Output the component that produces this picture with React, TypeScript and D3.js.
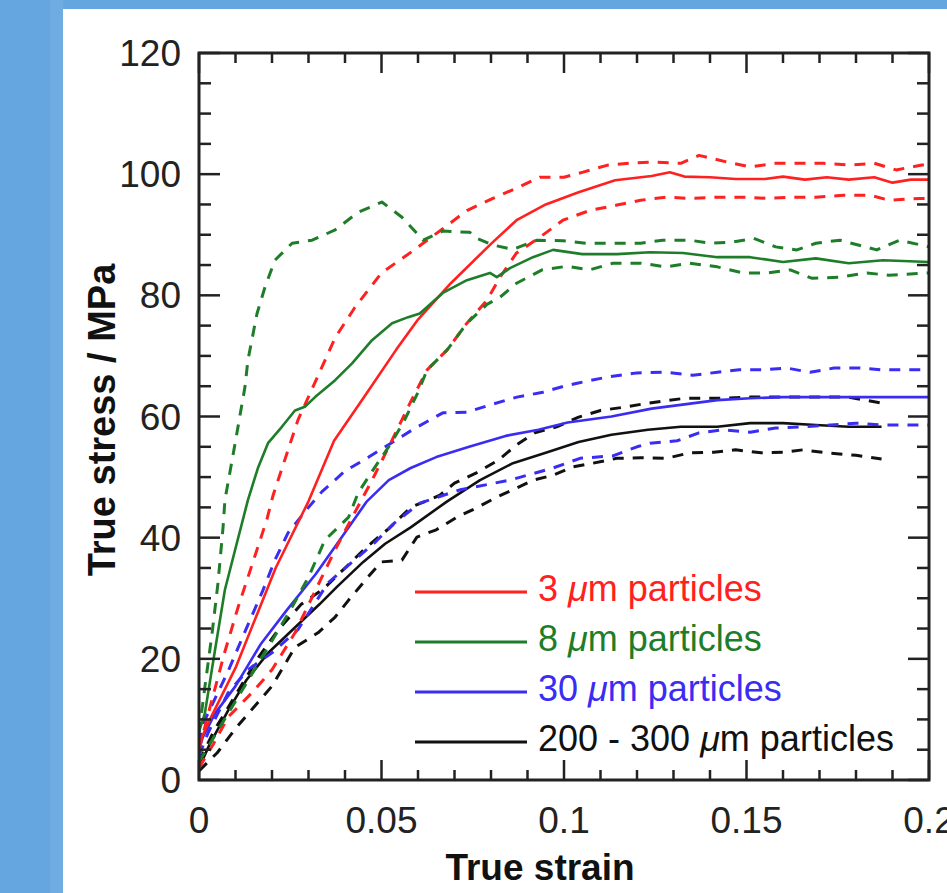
import React from 'react';
import * as d3 from 'd3';

const W = 947;
const H = 893;
const box = { left: 199, top: 53, right: 929, bottom: 780 };

// tick values
const xMajor = [0, 0.05, 0.1, 0.15, 0.2];
const xLabels = ['0', '0.05', '0.1', '0.15', '0.2'];
const yMajor = [0, 20, 40, 60, 80, 100, 120];
const yLabels = ['0', '20', '40', '60', '80', '100', '120'];

// [true strain, true stress / MPa]
const red3Mean = [
  [0, 6], [0.003, 10], [0.01, 18.5], [0.016, 27.5], [0.021, 35], [0.03, 46], [0.037, 56], [0.045, 63],
  [0.054, 71], [0.06, 76], [0.069, 82], [0.08, 88.5], [0.087, 92.4], [0.095, 95], [0.104, 97],
  [0.114, 99], [0.124, 99.7], [0.129, 100.3], [0.133, 99.6], [0.14, 99.5], [0.147, 99.2],
  [0.155, 99.2], [0.16, 99.6], [0.166, 99.1], [0.172, 99.5], [0.178, 99.1], [0.185, 99.5],
  [0.19, 98.6], [0.195, 99.1], [0.2, 99.1],
];
const red3Upper = [
  [0, 5], [0.003, 12], [0.007, 21], [0.0107, 28.5], [0.0186, 43], [0.0203, 47], [0.0271, 59.4],
  [0.0337, 68.2], [0.0373, 73], [0.0427, 78], [0.05, 83.7], [0.0585, 87.3], [0.0668, 91],
  [0.0734, 94], [0.0805, 96], [0.087, 97.7], [0.0934, 99.5], [0.1, 99.5], [0.105, 100.3],
  [0.112, 101.5], [0.118, 101.8], [0.124, 102], [0.132, 101.8], [0.137, 103.1], [0.1447, 102],
  [0.151, 101.2], [0.158, 101.8], [0.165, 101.8], [0.171, 101.8], [0.178, 101.5], [0.185, 101.8],
  [0.191, 100.7], [0.198, 101.5], [0.2, 101.5],
];
const red3Lower = [
  [0, 2], [0.004, 6], [0.008, 10.4], [0.0145, 14.4], [0.02, 18.2], [0.0263, 24.3], [0.031, 30.2],
  [0.0373, 38], [0.042, 43.4], [0.047, 49], [0.052, 55], [0.0578, 62.2], [0.0625, 67.7], [0.068, 71],
  [0.0734, 75.4], [0.0789, 79.2], [0.0825, 83], [0.087, 87], [0.0934, 89.6], [0.0997, 92.4],
  [0.107, 94], [0.1145, 94.9], [0.121, 95.7], [0.128, 96.2], [0.1345, 96], [0.142, 96.2],
  [0.149, 96.2], [0.156, 96], [0.162, 96.2], [0.169, 96.2], [0.1765, 96.5], [0.184, 96.5],
  [0.189, 95.7], [0.1975, 96], [0.2, 96],
];

const green8Mean = [
  [0, 8], [0.0016, 11], [0.0044, 21.5], [0.0071, 31.4], [0.0099, 38], [0.0134, 46.2], [0.0162, 51.6],
  [0.0189, 55.6], [0.0227, 58.3], [0.0263, 61], [0.029, 61.6], [0.0318, 63.2], [0.0373, 66],
  [0.042, 68.8], [0.0474, 72.6], [0.0529, 75.4], [0.0573, 76.4], [0.0605, 77], [0.0668, 80.4],
  [0.0734, 82.5], [0.0797, 83.7], [0.0816, 83], [0.0852, 84.5], [0.0915, 86.3], [0.097, 87.5],
  [0.105, 86.8], [0.1145, 86.8], [0.1236, 87.1], [0.1326, 87], [0.142, 86.3], [0.151, 86.3],
  [0.16, 85.5], [0.169, 86.1], [0.178, 85.3], [0.1874, 85.8], [0.2, 85.5],
];
const green8Upper = [
  [0, 7.8], [0.0016, 15.3], [0.0036, 24.3], [0.0052, 32.5], [0.0066, 41.8], [0.0071, 46.2],
  [0.0099, 55.6], [0.0126, 64.9], [0.0134, 69.3], [0.0159, 77], [0.0181, 81.4], [0.0208, 85.8],
  [0.0255, 88.6], [0.031, 89.1], [0.0373, 90.8], [0.0436, 93.7], [0.0501, 95.4], [0.0556, 92.9],
  [0.0614, 89.1], [0.0668, 90.6], [0.0742, 90.4], [0.0762, 89.4], [0.0805, 88.3], [0.086, 87.6],
  [0.0926, 89.1], [0.0997, 89], [0.106, 88.6], [0.1134, 88.6], [0.121, 88.6], [0.127, 89.1],
  [0.1345, 89.1], [0.14, 88.6], [0.1463, 88.8], [0.152, 89.4], [0.158, 88], [0.1638, 87.5],
  [0.169, 88.6], [0.1756, 89.1], [0.1857, 87.5], [0.192, 89.1], [0.2, 88],
];
const green8Lower = [
  [0, 3], [0.005, 8], [0.01, 13], [0.015, 18], [0.02, 23], [0.025, 28], [0.03, 33.5], [0.0345, 39.6],
  [0.041, 43.4], [0.0436, 47.4], [0.0477, 51.2], [0.0523, 55.3], [0.056, 59], [0.06, 64],
  [0.0625, 67.7], [0.068, 71], [0.0734, 75.4], [0.0789, 78.5], [0.0825, 79.7], [0.087, 82],
  [0.094, 84.2], [0.1008, 84.8], [0.107, 84.2], [0.1134, 85.3], [0.121, 85.3], [0.128, 84.7],
  [0.1345, 85.3], [0.142, 84.7], [0.149, 83.7], [0.1556, 83.7], [0.162, 84.2], [0.168, 82.8],
  [0.1756, 83], [0.183, 83.7], [0.189, 83.3], [0.2, 83.7],
];

const blue30Mean = [
  [0, 5], [0.001, 7], [0.0044, 11], [0.01, 15.5], [0.017, 22.5], [0.024, 28], [0.032, 34],
  [0.039, 40], [0.046, 46], [0.052, 49.5], [0.058, 51.5], [0.065, 53.3], [0.074, 55], [0.084, 56.8],
  [0.093, 57.8], [0.101, 59], [0.113, 60], [0.124, 61.3], [0.133, 62], [0.142, 62.7], [0.151, 63],
  [0.16, 63.2], [0.18, 63.2], [0.2, 63.2],
];
const blue30Upper = [
  [0, 6], [0.0016, 9.9], [0.008, 18], [0.0126, 24.5], [0.0173, 31], [0.0208, 36.3], [0.0244, 40.8],
  [0.03, 45], [0.0337, 47.6], [0.04, 51], [0.0465, 53.3], [0.0526, 55.6], [0.059, 58], [0.0668, 60.6],
  [0.0734, 60.7], [0.0797, 61.9], [0.0871, 63.2], [0.0942, 64], [0.1, 65], [0.1036, 65.5],
  [0.1118, 66.5], [0.12, 67.2], [0.128, 67.3], [0.1353, 66.8], [0.142, 67.3], [0.148, 67.7],
  [0.1545, 67.7], [0.161, 68], [0.1674, 67.3], [0.174, 68], [0.181, 68], [0.1874, 67.7],
  [0.1948, 67.7], [0.2, 67.7],
];
const blue30Lower = [
  [0, 4], [0.0025, 7.8], [0.008, 14.4], [0.0134, 18.2], [0.02, 21], [0.0271, 24.8], [0.0353, 32.5],
  [0.042, 36], [0.048, 39.1], [0.0535, 42.4], [0.0605, 45.7], [0.0715, 47.9], [0.0852, 49.5],
  [0.0899, 50.3], [0.097, 51.5], [0.1044, 53.1], [0.1134, 53.5], [0.12, 55], [0.1236, 55.6],
  [0.131, 56], [0.137, 57.3], [0.1436, 57.8], [0.151, 57.4], [0.158, 58.1], [0.1655, 58.3],
  [0.173, 58.6], [0.18, 58.9], [0.1874, 58.6], [0.1948, 58.6], [0.2, 58.6],
];

const black200Mean = [
  [0, 2], [0.003, 6], [0.008, 11.5], [0.013, 16.5], [0.019, 21], [0.026, 25], [0.033, 29],
  [0.038, 32], [0.045, 36], [0.051, 39], [0.058, 41.7], [0.068, 46], [0.077, 49.5], [0.086, 52.3],
  [0.095, 54], [0.104, 55.8], [0.113, 57], [0.123, 57.8], [0.132, 58.3], [0.142, 58.3],
  [0.151, 58.9], [0.16, 58.9], [0.169, 58.6], [0.178, 58.3], [0.187, 58.3],
];
const black200Upper = [
  [0, 3], [0.004, 8], [0.01, 14], [0.016, 20], [0.022, 25], [0.028, 29], [0.034, 31.5], [0.04, 35],
  [0.046, 38.5], [0.052, 41.5], [0.058, 45], [0.066, 47], [0.07, 49], [0.076, 50.7], [0.082, 52.8],
  [0.087, 55.3], [0.092, 57.3], [0.098, 58.3], [0.104, 59.9], [0.11, 61], [0.116, 61.5],
  [0.123, 62.2], [0.133, 63], [0.142, 63], [0.151, 63.2], [0.16, 63.2], [0.169, 63.2],
  [0.178, 63.2], [0.187, 62.2],
];
const black200Lower = [
  [0, 1.5], [0.005, 4.5], [0.01, 8.5], [0.015, 12], [0.02, 15.5], [0.0263, 21.9], [0.0326, 24.3],
  [0.0373, 26.9], [0.041, 29.7], [0.0463, 33.5], [0.05, 36], [0.0556, 36.3], [0.0597, 40.1],
  [0.065, 41.3], [0.0707, 43.4], [0.076, 44.9], [0.0816, 46.7], [0.086, 47.9], [0.0915, 49.5],
  [0.097, 50.3], [0.1025, 51.7], [0.108, 52.3], [0.1145, 53.1], [0.121, 53.2], [0.128, 53.1],
  [0.1345, 54], [0.141, 54.1], [0.147, 54.5], [0.154, 54], [0.16, 54.1], [0.1655, 54.5],
  [0.172, 54], [0.18, 53.6], [0.187, 53],
];

const legendNames = ['3', '8', '30', '200 - 300'];
const colors = ['#ff2020', '#1e7d28', '#3a2cf2', '#111111'];

const series = [
  { data: black200Upper, color: colors[3], dashed: true },
  { data: black200Lower, color: colors[3], dashed: true },
  { data: black200Mean, color: colors[3], dashed: false },
  { data: blue30Upper, color: colors[2], dashed: true },
  { data: blue30Lower, color: colors[2], dashed: true },
  { data: blue30Mean, color: colors[2], dashed: false },
  { data: red3Upper, color: colors[0], dashed: true },
  { data: red3Lower, color: colors[0], dashed: true },
  { data: green8Upper, color: colors[1], dashed: true },
  { data: green8Lower, color: colors[1], dashed: true },
  { data: red3Mean, color: colors[0], dashed: false },
  { data: green8Mean, color: colors[1], dashed: false },
];

const font = "'Liberation Sans', Arial, Helvetica, sans-serif";

export default function App() {
  const x = d3.scaleLinear().domain([0, 0.2]).range([box.left, box.right]);
  const y = d3.scaleLinear().domain([0, 120]).range([box.bottom, box.top]);
  const line = d3.line<number[]>().x(d => x(d[0])).y(d => y(d[1]));

  const xMinor = x.ticks(20);
  const yMinor = y.ticks(24);
  const axisColor = '#222';

  return (
    <svg width={W} height={H} style={{ position: 'absolute', left: 0, top: 0 }} fontFamily={font}>
      <rect x={0} y={0} width={W} height={H} fill="#65a6e0" />
      <rect x={50} y={0} width={13} height={H} fill="#6eace2" />
      <rect x={63} y={9} width={W - 63} height={H - 9} fill="#ffffff" />

      <defs>
        <clipPath id="plot">
          <rect x={box.left} y={box.top} width={box.right - box.left} height={box.bottom - box.top} />
        </clipPath>
      </defs>

      <g clipPath="url(#plot)" fill="none" strokeLinejoin="round">
        {series.map((s, i) => (
          <path
            key={i}
            d={line(s.data) || ''}
            stroke={s.color}
            strokeWidth={s.dashed ? 3 : 2.6}
            strokeDasharray={s.dashed ? '11 9' : undefined}
          />
        ))}
      </g>

      {/* legend */}
      {legendNames.map((n, i) => {
        const ly = 592 + i * 50;
        return (
          <g key={n}>
            <line x1={415} x2={527} y1={ly} y2={ly} stroke={colors[i]} strokeWidth={3} />
            <text x={538} y={ly + 9} fontSize={36} fill={colors[i]}>
              {n + ' '}
              <tspan fontStyle="italic">μ</tspan>
              {'m particles'}
            </text>
          </g>
        );
      })}

      {/* ticks */}
      <g stroke={axisColor} strokeWidth={2.5}>
        {xMinor.map(t => {
          const len = xMajor.some(m => Math.abs(m - t) < 1e-9) ? 20 : 10;
          return (
            <g key={'x' + t}>
              <line x1={x(t)} x2={x(t)} y1={box.bottom} y2={box.bottom - len} />
              <line x1={x(t)} x2={x(t)} y1={box.top} y2={box.top + len} />
            </g>
          );
        })}
        {yMinor.map(t => {
          const len = t % 20 === 0 ? 21 : 12;
          return (
            <g key={'y' + t}>
              <line x1={box.left} x2={box.left + len} y1={y(t)} y2={y(t)} />
              <line x1={box.right} x2={box.right - len} y1={y(t)} y2={y(t)} />
            </g>
          );
        })}
      </g>
      <rect
        x={box.left}
        y={box.top}
        width={box.right - box.left}
        height={box.bottom - box.top}
        fill="none"
        stroke={axisColor}
        strokeWidth={3}
      />

      {/* tick labels */}
      {xMajor.map((t, i) => (
        <text key={'xl' + t} x={x(t)} y={833} fontSize={37} textAnchor="middle" fill="#222">
          {xLabels[i]}
        </text>
      ))}
      {yMajor.map((t, i) => (
        <text key={'yl' + t} x={181} y={y(t) + 13} fontSize={37} textAnchor="end" fill="#222">
          {yLabels[i]}
        </text>
      ))}

      {/* axis titles */}
      <text x={540} y={880} fontSize={37} fontWeight="bold" textAnchor="middle" fill="#111">
        True strain
      </text>
      <text
        transform="translate(115,420) rotate(-90)"
        fontSize={38}
        fontWeight="bold"
        textAnchor="middle"
        fill="#111"
      >
        True stress / MPa
      </text>
    </svg>
  );
}
